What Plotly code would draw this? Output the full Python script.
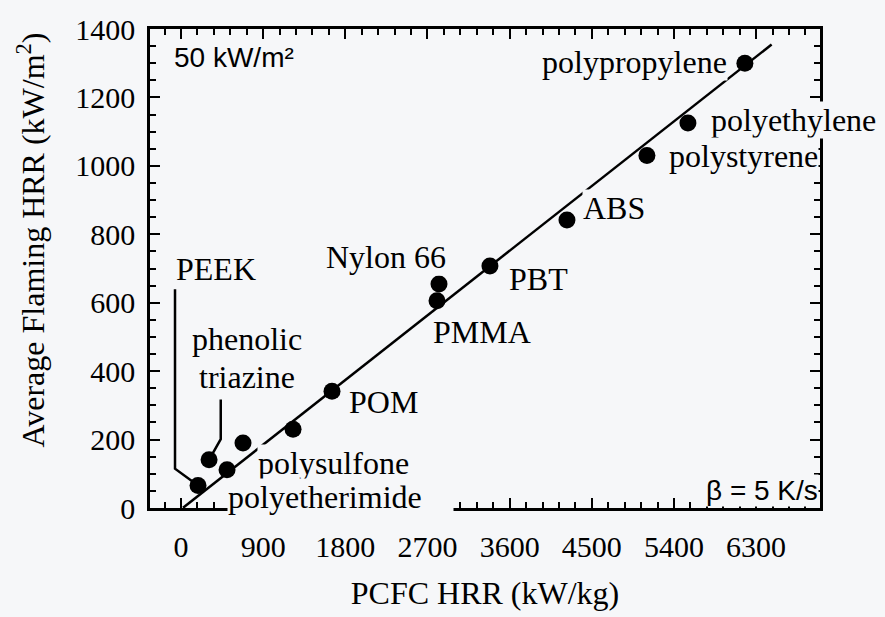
import plotly.graph_objects as go

# PCFC heat release rate (kW/kg) vs. average flaming heat release rate (kW/m2)
pcfc_hrr = [6177, 5553, 5104, 4228, 3384, 2826, 2804, 1654, 1227, 679, 504, 307, 186]
flaming_hrr = [1300, 1125, 1030, 842, 707, 655, 606, 341, 230, 190, 112, 141, 66]

# least-squares correlation line
fit_slope = 0.21
fit_intercept = -4
fit_x = [22, 6470]

x_ticks = [0, 900, 1800, 2700, 3600, 4500, 5400, 6300]
y_ticks = [0, 200, 400, 600, 800, 1000, 1200, 1400]

BG = "#f6f7f9"
SERIF = "Liberation Serif, Times New Roman, serif"
SANS = "Liberation Sans, Arial, sans-serif"

fig = go.Figure()

fig.add_trace(go.Scatter(
    x=fit_x,
    y=[fit_slope * x + fit_intercept for x in fit_x],
    mode="lines",
    line=dict(color="black", width=2.5),
    hoverinfo="skip",
    showlegend=False,
))

fig.add_trace(go.Scatter(
    x=pcfc_hrr,
    y=flaming_hrr,
    mode="markers",
    marker=dict(color="black", size=17),
    showlegend=False,
))

# material labels: (text, x, y, xanchor)
labels = [
    ("polypropylene", 5991, 1303, "right"),
    ("polyethylene", 5794, 1135, "left"),
    ("polystyrene", 5339, 1030, "left"),
    ("ABS", 4392, 878, "left"),
    ("PBT", 3582, 670, "left"),
    ("Nylon 66", 2913, 735, "right"),
    ("PMMA", 2749, 515, "left"),
    ("POM", 1829, 310, "left"),
    ("polysulfone", 832, 133, "left"),
    ("PEEK", -66, 700, "left"),
    ("phenolic", 723, 495, "center"),
    ("triazine", 723, 383, "center"),
]
for text, x, y, anchor in labels:
    fig.add_annotation(
        x=x, y=y, text=text, xanchor=anchor, yanchor="middle",
        showarrow=False, bgcolor=BG, borderpad=0,
        font=dict(family=SERIF, size=32, color="black"),
    )

# this label sits on the x axis and blanks a stretch of it
fig.add_annotation(
    x=504, y=32, text="polyetherimide", xanchor="left", yanchor="middle",
    width=225, align="left",
    showarrow=False, bgcolor=BG, borderpad=0,
    font=dict(family=SERIF, size=32, color="black"),
)

fig.add_annotation(
    x=-90, y=1318, text="50 kW/m²", xanchor="left", yanchor="middle",
    showarrow=False, bgcolor=BG, borderpad=0,
    font=dict(family=SANS, size=28, color="black"),
)
fig.add_annotation(
    x=6985, y=52, text="β = 5 K/s", xanchor="right", yanchor="middle",
    showarrow=False, bgcolor=BG, borderpad=0,
    font=dict(family=SANS, size=28, color="black"),
)

# y-axis title
fig.add_annotation(
    xref="paper", yref="paper", x=-0.178, y=0.56,
    text="Average Flaming HRR (kW/m<sup>2</sup>)", textangle=-90,
    xanchor="center", yanchor="middle", showarrow=False,
    font=dict(family=SERIF, size=32, color="black"),
)

# leader lines from labels to their points
leaders = [
    [(-66, 639), (-66, 115), (186, 66)],
    [(435, 317), (435, 201), (307, 141)],
]
for pts in leaders:
    path = "M " + " L ".join(f"{px},{py}" for px, py in pts)
    fig.add_shape(type="path", path=path, xref="x", yref="y",
                  line=dict(color="black", width=2.5), layer="below")

axis_common = dict(
    showline=True, linecolor="black", linewidth=2.5, mirror="ticks",
    ticks="inside", ticklen=10, tickwidth=2, tickcolor="black",
    showgrid=False, zeroline=False,
    tickfont=dict(family=SERIF, size=30, color="black"),
)

fig.update_xaxes(
    range=[-340, 7000], tickmode="array", tickvals=x_ticks,
    ticktext=[str(v) for v in x_ticks],
    minor=dict(tick0=0, dtick=180, ticks="inside", ticklen=6, tickwidth=2, tickcolor="black"),
    ticklabelstandoff=10,
    title=dict(text="PCFC HRR (kW/kg)", font=dict(family=SERIF, size=32, color="black"), standoff=20),
    **axis_common,
)
fig.update_yaxes(
    range=[0, 1400], tickmode="array", tickvals=y_ticks,
    ticktext=[str(v) for v in y_ticks],
    minor=dict(tick0=0, dtick=50, ticks="inside", ticklen=6, tickwidth=2, tickcolor="black"),
    ticklabelstandoff=6,
    **axis_common,
)

fig.update_layout(
    width=885, height=617,
    margin=dict(l=150, r=65, t=24, b=107),
    paper_bgcolor=BG, plot_bgcolor=BG,
    showlegend=False,
)

fig.write_html("out.html")
